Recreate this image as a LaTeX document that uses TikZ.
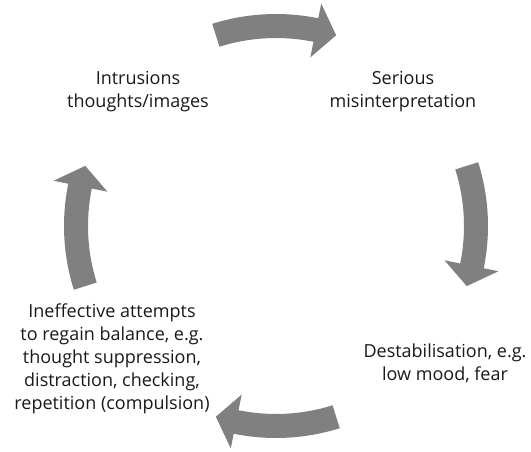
\documentclass[tikz,border=0pt]{standalone}
\usepackage{fontspec}
\setmainfont{Open Sans}
\begin{document}
\begin{tikzpicture}[x=1pt,y=1pt,
  label text/.style={align=center,inner sep=0pt,anchor=base,
    font=\fontsize{18}{23}\selectfont,text=black!90},
  cyclearrow/.style={fill=black!50}]
\useasboundingbox (0,0) rectangle (531,451);
% curved block arrows round the cycle (mid angle, clockwise)
\begin{scope}[shift={(276,225)}]
  \foreach \m in {90,0,-90,180}{
    \fill[cyclearrow]
      (\m+17.5:212pt) arc[start angle=\m+17.5,end angle=\m-11.5,radius=212pt]
      -- (\m-11.5:227pt) -- (\m-17.5:200pt) -- (\m-11.5:172pt)
      -- (\m-11.5:188pt) arc[start angle=\m-11.5,end angle=\m+17.5,radius=188pt]
      -- cycle;
  }
\end{scope}
% base anchor sits on the last line of each label
\node[label text] (intr) at (138,343) {Intrusions\\thoughts/images};
\node[label text] (mis) at (403,343) {Serious\\misinterpretation};
\node[label text] (dest) at (445,71) {Destabilisation, e.g.\\low mood, fear};
\node[label text] (ineff) at (112,42) {Ineffective attempts\\to regain balance, e.g.\\thought suppression,\\distraction, checking,\\repetition (compulsion)};
\end{tikzpicture}
\end{document}
